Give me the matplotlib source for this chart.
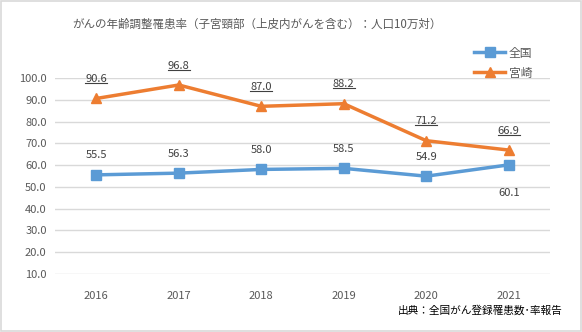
import matplotlib
matplotlib.use('Agg')
import matplotlib.pyplot as plt
from matplotlib.lines import Line2D
from matplotlib.patches import Rectangle

plt.rcParams['font.family'] = ['Noto Sans CJK JP', 'DejaVu Sans']

years = [2016, 2017, 2018, 2019, 2020, 2021]
zenkoku = [55.5, 56.3, 58.0, 58.5, 54.9, 60.1]
miyazaki = [90.6, 96.8, 87.0, 88.2, 71.2, 66.9]
yticks = [10, 20, 30, 40, 50, 60, 70, 80, 90, 100]

blue = '#5B9BD5'
orange = '#ED7D31'
gray = '#595959'

fig = plt.figure(figsize=(5.82, 3.32), dpi=100)
ax = fig.add_axes([0.0945, 0.175, 0.8505, 0.59])

x = list(range(len(years)))
ax.plot(x, zenkoku, color=blue, lw=2.5, marker='s', ms=6.5, label='全国', clip_on=False)
ax.plot(x, miyazaki, color=orange, lw=2.5, marker='^', ms=7.5, label='宮崎', clip_on=False)

ax.set_xlim(-0.5, len(years) - 0.5)
ax.set_ylim(10, 100)
ax.set_yticks(yticks)
ax.set_yticklabels([f'{v:.1f}' for v in yticks])
ax.set_xticks(x)
ax.set_xticklabels([str(y) for y in years])
ax.tick_params(length=0, labelsize=8, colors=gray, pad=6)
ax.tick_params(axis='x', pad=12)
ax.grid(axis='y', color='#D9D9D9', lw=1)
ax.set_axisbelow(True)
for s in ax.spines.values():
    s.set_visible(False)

# data labels
for i, v in enumerate(zenkoku):
    off = -20 if i == len(years) - 1 else 14
    ax.annotate(f'{v:.1f}', (i, v), xytext=(0, off), textcoords='offset points',
                ha='center', va='center', fontsize=8, color='#404040')

miya_texts = []
for i, v in enumerate(miyazaki):
    t = ax.annotate(f'{v:.1f}', (i, v), xytext=(0, 14), textcoords='offset points',
                    ha='center', va='center', fontsize=8, color='#404040')
    miya_texts.append(t)

fig.text(0.442, 0.928, 'がんの年齢調整罹患率（子宮頸部（上皮内がんを含む）：人口10万対）',
         ha='center', va='center', fontsize=8.3, color=gray)
fig.text(0.966, 0.066, '出典：全国がん登録罹患数･率報告', ha='right', va='center',
         fontsize=7.7, color='black')

fig.legend(*ax.get_legend_handles_labels(), loc='center left',
           bbox_to_anchor=(0.815, 0.81), frameon=False, fontsize=8.5,
           borderpad=0, borderaxespad=0, handlelength=2.6, labelspacing=0.6,
           handletextpad=0.3, labelcolor=gray)

fig.add_artist(Rectangle((0.001, 0.002), 0.997, 0.995, transform=fig.transFigure,
                         fill=False, ec='#D9D9D9', lw=1.2))

# underline the 宮崎 labels
fig.canvas.draw()
r = fig.canvas.get_renderer()
inv = fig.transFigure.inverted()
for t in miya_texts:
    bb = t.get_window_extent(r)
    (x0, y0), (x1, y1) = inv.transform([(bb.x0, bb.y0 + 1), (bb.x1, bb.y0 + 1)])
    fig.add_artist(Line2D([x0, x1], [y0, y1], transform=fig.transFigure,
                          color='#404040', lw=0.8))

fig.savefig('out.png', dpi=100)
